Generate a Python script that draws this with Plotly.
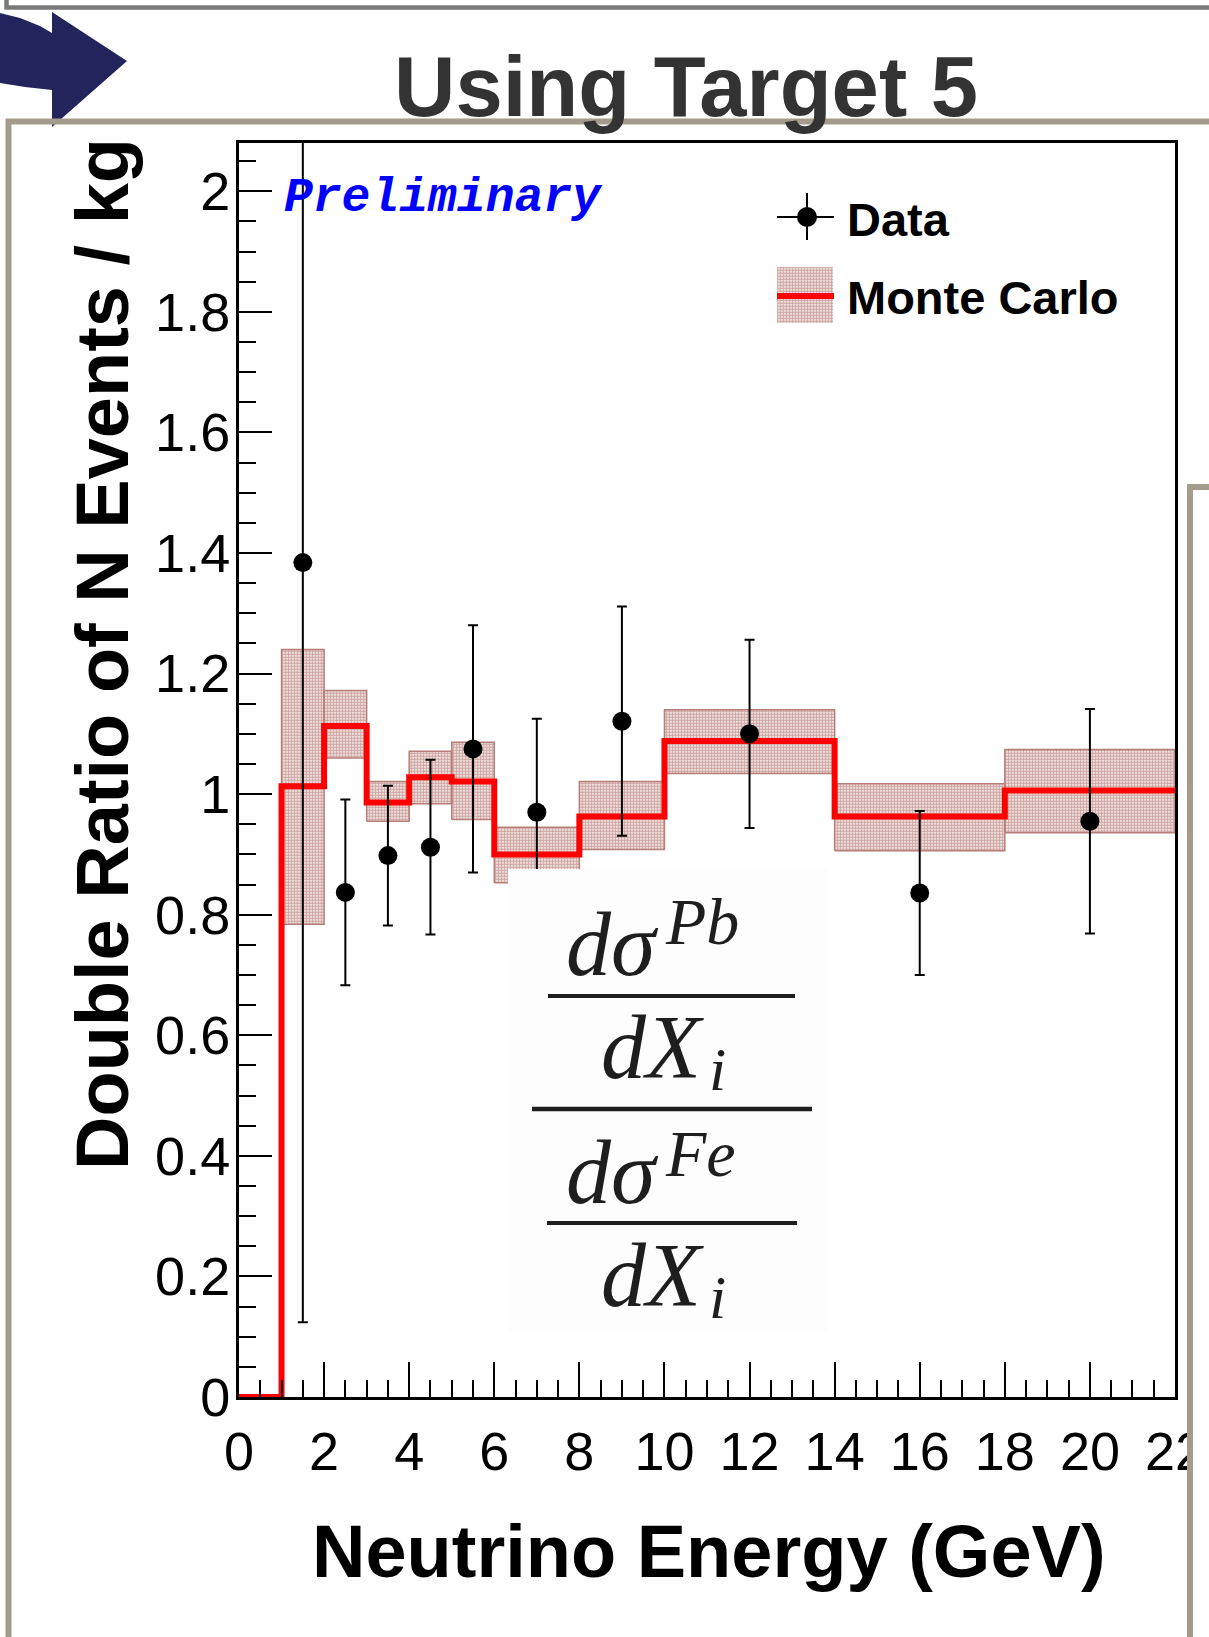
import plotly.graph_objects as go

W, H = 1209, 1637

# ---------------- data ----------------
bin_edges = [0, 1, 2, 3, 4, 5, 6, 8, 10, 14, 18, 22]
mc_ratio = [0.0, 1.013, 1.113, 0.986, 1.028, 1.021, 0.900, 0.963, 1.088, 0.963, 1.006]
mc_band_low = [0.0, 0.784, 1.060, 0.955, 0.984, 0.958, 0.853, 0.908, 1.034, 0.906, 0.936]
mc_band_high = [0.0, 1.240, 1.172, 1.021, 1.071, 1.086, 0.945, 1.021, 1.140, 1.017, 1.074]

data_energy = [1.5, 2.5, 3.5, 4.5, 5.5, 7, 9, 12, 16, 20]
data_ratio = [1.384, 0.837, 0.898, 0.912, 1.075, 0.970, 1.121, 1.100, 0.836, 0.955]
data_error = [1.26, 0.154, 0.116, 0.145, 0.205, 0.155, 0.190, 0.156, 0.136, 0.186]

x_tick_vals = [0, 2, 4, 6, 8, 10, 12, 14, 16, 18, 20, 22]
x_tick_text = ["0", "2", "4", "6", "8", "10", "12", "14", "16", "18", "20", "22"]
y_tick_vals = [0, 0.2, 0.4, 0.6, 0.8, 1.0, 1.2, 1.4, 1.6, 1.8, 2.0]
y_tick_text = ["0", "0.2", "0.4", "0.6", "0.8", "1", "1.2", "1.4", "1.6", "1.8", "2"]

title_text = "Using Target 5"
x_title = "Neutrino Energy (GeV)"
y_title = "Double Ratio of N Events / kg"
legend_labels = ["Data", "Monte Carlo"]


def px(x):
    return x / W


def py(y):
    return 1 - y / H


BAND_PATTERN = dict(shape=".", fgcolor="#a0524c", bgcolor="#ffffff", size=3, solidity=0.72)
BAND_LINE = "#b77e78"

fig = go.Figure()

# MC uncertainty band (one rectangle per bin)
bx, by = [], []
for i in range(len(mc_ratio)):
    if mc_band_high[i] > mc_band_low[i]:
        lo, hi = bin_edges[i], bin_edges[i + 1]
        bx += [lo, hi, hi, lo, lo, None]
        by += [mc_band_low[i], mc_band_low[i], mc_band_high[i], mc_band_high[i], mc_band_low[i], None]
fig.add_trace(go.Scatter(
    x=bx, y=by, mode="lines", fill="toself", fillcolor="#ffffff",
    fillpattern=BAND_PATTERN, line=dict(color=BAND_LINE, width=1.5),
    hoverinfo="skip", showlegend=False))

# MC central value as a step histogram
fig.add_trace(go.Scatter(
    x=bin_edges, y=mc_ratio + [mc_ratio[-1]], mode="lines",
    line=dict(color="#ff0000", width=6, shape="hv"),
    hoverinfo="skip", showlegend=False))

# Data points with error bars
fig.add_trace(go.Scatter(
    x=data_energy, y=data_ratio, mode="markers",
    marker=dict(color="black", size=19),
    error_y=dict(type="data", array=data_error, color="black", thickness=2, width=5),
    showlegend=False))

# Legend box for Monte Carlo (pixel-unit overlay axes)
fig.add_trace(go.Scatter(
    x=[777, 833, 833, 777, 777], y=[267, 267, 323, 323, 267],
    xaxis="x2", yaxis="y2", mode="lines", fill="toself", fillcolor="#ffffff",
    fillpattern=BAND_PATTERN, line=dict(color="rgba(0,0,0,0)", width=0),
    hoverinfo="skip", showlegend=False))

shapes = []
# formula background box (pasted image in the original)
shapes.append(dict(type="rect", xref="paper", yref="paper",
                   x0=px(508), x1=px(828), y0=py(869), y1=py(1331),
                   fillcolor="#fdfdfd", line=dict(width=0), layer="above"))
# fraction bars
for (x0, x1, y, w) in [(548, 795, 996, 4), (532, 812, 1109, 4.5), (547, 797, 1223, 4)]:
    shapes.append(dict(type="line", xref="paper", yref="paper",
                       x0=px(x0), x1=px(x1), y0=py(y), y1=py(y),
                       line=dict(color="#1e1e1e", width=w), layer="above"))

# legend symbols
shapes.append(dict(type="line", xref="paper", yref="paper", x0=px(777), x1=px(834),
                   y0=py(217), y1=py(217), line=dict(color="black", width=2), layer="above"))
shapes.append(dict(type="line", xref="paper", yref="paper", x0=px(807), x1=px(807),
                   y0=py(193), y1=py(240), line=dict(color="black", width=2), layer="above"))
shapes.append(dict(type="circle", xref="paper", yref="paper", x0=px(797), x1=px(817),
                   y0=py(207), y1=py(227), fillcolor="black", line=dict(width=0), layer="above"))
shapes.append(dict(type="line", xref="paper", yref="paper", x0=px(777), x1=px(834),
                   y0=py(296), y1=py(296), line=dict(color="#ff0000", width=6), layer="above"))

# slide decorations
arrow = [(0, 13), (20, 18), (40, 26), (52, 33), (52, 12), (127, 61), (52, 127), (52, 90),
         (25, 87), (0, 83)]
path = "M " + " L ".join(f"{px(a)},{py(b)}" for a, b in arrow) + " Z"
shapes.append(dict(type="path", xref="paper", yref="paper", path=path,
                   fillcolor="#23245c", line=dict(width=0), layer="above"))
shapes.append(dict(type="path", xref="paper", yref="paper",
                   path=f"M {px(6.5)},{py(-5)} L {px(6.5)},{py(7.5)} L {px(1220)},{py(7.5)}",
                   line=dict(color="#7a7a7a", width=4.5), layer="above"))
shapes.append(dict(type="path", xref="paper", yref="paper",
                   path=f"M {px(8.5)},{py(1650)} L {px(8.5)},{py(121.5)} L {px(1220)},{py(121.5)}",
                   line=dict(color="#a39b8b", width=6), layer="above"))
shapes.append(dict(type="rect", xref="paper", yref="paper",
                   x0=px(1190), x1=px(1230), y0=py(487), y1=py(1660),
                   fillcolor="white", line=dict(color="#a39b8b", width=6), layer="above"))

SANS = "Liberation Sans, Arial, sans-serif"
SERIF = "Liberation Serif, Times New Roman, serif"
INK = "#1e1e1e"


def ann(text, x, y, size, family=SANS, color="black", xanchor="center", angle=0):
    return dict(text=text, x=px(x), y=py(y), xref="paper", yref="paper",
                showarrow=False, xanchor=xanchor, yanchor="middle", textangle=angle,
                font=dict(size=size, family=family, color=color))


annotations = [
    ann(f"<b>{title_text}</b>", 686, 87, 85, color="#333333"),
    ann(f"<b>{x_title}</b>", 709, 1551, 74),
    ann(f"<b>{y_title}</b>", 103, 654, 74, angle=-90),
    ann(f"<b>{legend_labels[0]}</b>", 845, 220, 47, xanchor="left"),
    ann(f"<b>{legend_labels[1]}</b>", 845, 298, 47, xanchor="left"),
    ann("<b><i>Preliminary</i></b>", 282, 198, 48, family="Liberation Mono, Courier New, monospace",
        color="#0000ff", xanchor="left"),
    # formula  (dσ^Pb / dX_i) / (dσ^Fe / dX_i)
    ann("<i>dσ</i>", 612, 944.6, 90, family=SERIF, color=INK),
    ann("<i>Pb</i>", 663, 921.4, 66, family=SERIF, color=INK, xanchor="left"),
    ann("<i>dX</i>", 652, 1047.6, 90, family=SERIF, color=INK),
    ann("<i>i</i>", 707, 1069, 62, family=SERIF, color=INK, xanchor="left"),
    ann("<i>dσ</i>", 612, 1172.6, 90, family=SERIF, color=INK),
    ann("<i>Fe</i>", 663, 1153.4, 66, family=SERIF, color=INK, xanchor="left"),
    ann("<i>dX</i>", 652, 1275.6, 90, family=SERIF, color=INK),
    ann("<i>i</i>", 707, 1297, 62, family=SERIF, color=INK, xanchor="left"),
]

axis_common = dict(showline=True, linecolor="black", linewidth=3, mirror=True,
                   ticks="inside", tickcolor="black", tickwidth=1.5,
                   showgrid=False, zeroline=False, automargin=False,
                   tickfont=dict(size=54, family=SANS, color="black"))

fig.update_layout(
    width=W, height=H, autosize=False,
    margin=dict(l=0, r=0, t=0, b=0, pad=0),
    paper_bgcolor="white", plot_bgcolor="white",
    showlegend=False,
    xaxis=dict(domain=[px(239), px(1175)], range=[0, 22],
               tickmode="array", tickvals=x_tick_vals, ticktext=x_tick_text,
               ticklen=35, ticklabelstandoff=5,
               minor=dict(ticks="inside", ticklen=17, dtick=0.5, tick0=0,
                          tickcolor="black", tickwidth=1.5, showgrid=False),
               **axis_common),
    yaxis=dict(domain=[py(1397), py(143)], range=[0, 2.08],
               tickmode="array", tickvals=y_tick_vals, ticktext=y_tick_text,
               ticklen=33, ticklabelstandoff=-5,
               minor=dict(ticks="inside", ticklen=17, dtick=0.05, tick0=0,
                          tickcolor="black", tickwidth=1.5, showgrid=False),
               **axis_common),
    xaxis2=dict(overlaying="x", range=[239, 1175], visible=False, anchor="y2", automargin=False),
    yaxis2=dict(overlaying="y", range=[1397, 143], visible=False, anchor="x2", automargin=False),
    shapes=shapes,
    annotations=annotations,
)

fig.write_html(
    "out.html",
    config={"displayModeBar": False},
    post_script="document.body.style.margin='0';document.body.style.padding='0';"
                "document.documentElement.style.overflow='hidden';",
)
